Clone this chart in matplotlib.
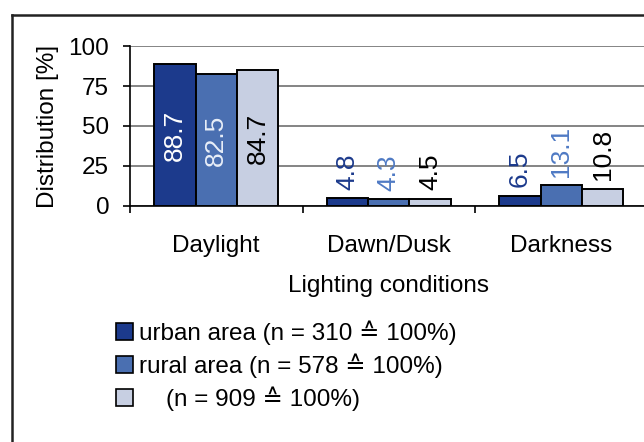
import matplotlib.pyplot as plt
from matplotlib.lines import Line2D
from matplotlib.patches import Patch

plt.rcParams['font.family'] = ['Liberation Sans', 'DejaVu Sans']

# data
categories = ['Daylight', 'Dawn/Dusk', 'Darkness']
urban = [88.7, 4.8, 6.5]
rural = [82.5, 4.3, 13.1]
total = [84.7, 4.5, 10.8]
series_labels = ['urban area (n = 310 \u2259 100%)',
                 'rural area (n = 578 \u2259 100%)',
                 '    (n = 909 \u2259 100%)']
y_ticks = [0, 25, 50, 75, 100]

bar_colors = ['#1C3A8C', '#4A6FB1', '#C7CFE2']
label_colors = ['#1C3A8C', '#4F7AC4', '#000000']
inside_colors = ['white', '#E8EEF8', '#000000']

W, H = 644, 442
fig = plt.figure(figsize=(W / 100, H / 100), dpi=100)

# axes placed in pixel coords (right end runs off the figure like the source)
left, right, top, bottom = 130, 647.5, 46, 206
ax = fig.add_axes([left / W, 1 - bottom / H, (right - left) / W, (bottom - top) / H])

fs = 17.5
bw = 0.24
x = range(len(categories))
for i, vals in enumerate([urban, rural, total]):
    pos = [c + (i - 1) * bw for c in x]
    ax.bar(pos, vals, width=bw, color=bar_colors[i], edgecolor='black',
           linewidth=1.4, zorder=3, label=series_labels[i])
    for p, v in zip(pos, vals):
        if v > 50:
            ax.text(p, v / 2, f'{v}', rotation=90, ha='center', va='center',
                    fontsize=19, color=inside_colors[i], zorder=4)
        else:
            ax.annotate(f'{v}', (p, v), xytext=(0, 6), textcoords='offset points',
                        rotation=90, ha='center', va='bottom', fontsize=19,
                        color=label_colors[i], zorder=4)

ax.set_xlim(-0.5, 2.5)
ax.set_ylim(0, 100)
ax.set_yticks(y_ticks)
ax.set_xticks([-0.5, 0.5, 1.5, 2.5])
ax.set_xticklabels([])
ax.set_xticks(list(x), minor=True)
ax.set_xticklabels(categories, minor=True)
ax.tick_params(axis='x', which='major', direction='out', length=5, width=1.2)
ax.tick_params(axis='x', which='minor', length=0, pad=21, labelsize=fs)
ax.tick_params(axis='y', direction='out', length=5, width=1.2, pad=10, labelsize=fs)
ax.yaxis.grid(True, color='#707070', linewidth=1.2, zorder=0)
ax.set_axisbelow(True)
for s in ['top', 'right']:
    ax.spines[s].set_visible(False)
ax.spines['left'].set_linewidth(1.2)
ax.spines['bottom'].set_linewidth(1.2)
ax.set_ylabel('Distribution [%]', fontsize=fs, labelpad=7)
ax.set_xlabel('Lighting conditions', fontsize=fs, labelpad=13)

# legend
handles = [Patch(facecolor=c, edgecolor='black', linewidth=1.2) for c in bar_colors]
fig.legend(handles, series_labels, loc='upper left',
           bbox_to_anchor=(104 / W, 1 - 308 / H), frameon=False, fontsize=fs,
           handlelength=0.7, handleheight=0.7, handletextpad=0.25,
           labelspacing=0.36, borderpad=0)

# outer frame (only top and left visible, rest cut off)
fig.add_artist(Line2D([12 / W, 12 / W], [0, 1 - 15 / H], color='#222222',
                      linewidth=1.8, transform=fig.transFigure))
fig.add_artist(Line2D([12 / W, 1], [1 - 15 / H, 1 - 15 / H], color='#222222',
                      linewidth=1.8, transform=fig.transFigure))

fig.savefig('out.png', dpi=100)
